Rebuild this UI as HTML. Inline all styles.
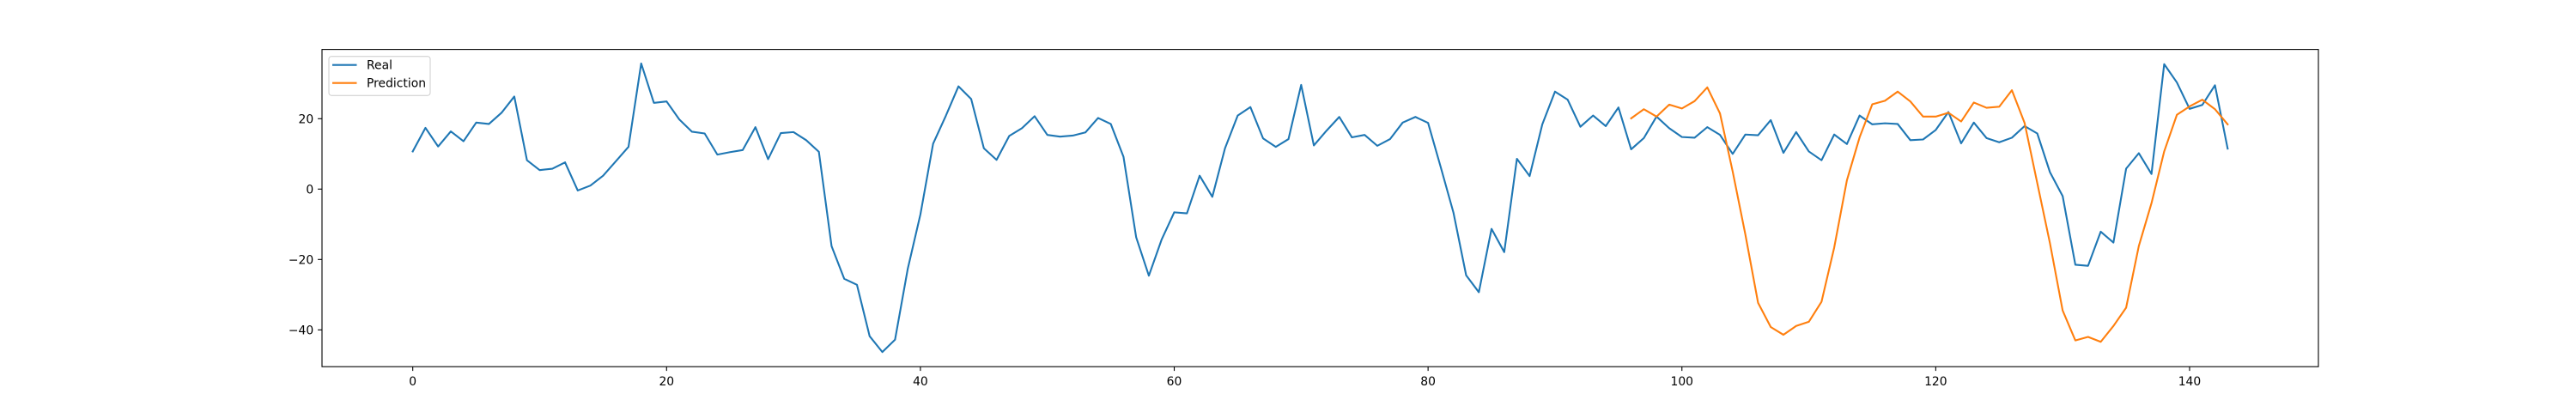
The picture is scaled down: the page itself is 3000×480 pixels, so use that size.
<!DOCTYPE html>
<html><head><meta charset="utf-8"><style>
html,body{margin:0;padding:0;background:#fff;}
svg{display:block;font-family:"DejaVu Sans","Liberation Sans",sans-serif;}
</style></head><body>
<svg id="chart" width="3000" height="480" xmlns="http://www.w3.org/2000/svg">
<rect x="0" y="0" width="3000" height="480" fill="#fff"/>
<g id="plot"></g>
</svg>
<script>
const realValues = [10.7,17.4,12.1,16.4,13.6,18.9,18.5,21.7,26.3,8.2,5.4,5.8,7.6,-0.4,1.0,3.8,7.9,12.0,35.7,24.5,24.9,19.8,16.3,15.8,9.8,10.5,11.1,17.6,8.5,15.9,16.2,13.9,10.6,-16.2,-25.5,-27.2,-41.8,-46.3,-42.8,-22.7,-7.2,12.9,20.8,29.2,25.6,11.6,8.3,15.1,17.3,20.7,15.4,14.9,15.2,16.1,20.2,18.5,9.2,-13.7,-24.6,-14.4,-6.6,-6.9,3.8,-2.2,11.6,20.9,23.3,14.4,12.0,14.2,29.6,12.4,16.6,20.5,14.7,15.4,12.3,14.2,18.9,20.5,18.8,6.2,-6.7,-24.5,-29.3,-11.3,-17.9,8.6,3.7,18.4,27.7,25.4,17.7,20.9,17.9,23.2,11.3,14.5,20.6,17.3,14.8,14.6,17.6,15.4,10.0,15.5,15.3,19.6,10.3,16.2,10.7,8.2,15.5,12.8,20.9,18.4,18.7,18.5,13.9,14.1,16.8,21.9,13.0,18.9,14.5,13.3,14.6,17.9,15.8,4.8,-2.0,-21.5,-21.8,-12.1,-15.2,5.8,10.2,4.3,35.5,30.3,22.8,23.9,29.5,11.5];
const predStart = 96;
const predValues = [20.1,22.7,20.6,24.0,22.9,25.0,28.9,21.5,5.0,-12.9,-32.3,-39.2,-41.4,-38.9,-37.7,-32.0,-16.6,2.5,14.7,24.1,25.1,27.7,24.9,20.6,20.6,21.7,19.2,24.6,23.1,23.4,28.1,18.8,1.7,-15.4,-34.5,-43.0,-42.0,-43.4,-38.9,-33.7,-16.2,-4.0,10.7,21.1,23.5,25.4,22.7,18.4];
const xTicks = [0,20,40,60,80,100,120,140];
const yTicks = [-40,-20,0,20];

const NS="http://www.w3.org/2000/svg";
const L=375,R=2700,T=57.6,B=427.2;
const xmin=-7.15,xmax=150.15,ymin=-50.46,ymax=39.68;
const X=v=>L+(v-xmin)/(xmax-xmin)*(R-L);
const Y=v=>B-(v-ymin)/(ymax-ymin)*(B-T);
const g=document.getElementById('plot');
function mk(tag,attrs){const e=document.createElementNS(NS,tag);for(const k in attrs)e.setAttribute(k,attrs[k]);g.appendChild(e);return e;}

function path(vals,start){let d='';vals.forEach((v,i)=>{d+=(i?'L':'M')+X(start+i).toFixed(2)+','+Y(v).toFixed(2);});return d;}
const real=mk('path',{d:path(realValues,0),fill:'none',stroke:'#1f77b4','stroke-width':2.1,'stroke-linejoin':'round','stroke-linecap':'square'});


const pred=mk('path',{d:path(predValues,predStart),fill:'none',stroke:'#ff7f0e','stroke-width':2.1,'stroke-linejoin':'round','stroke-linecap':'square'});



const frame=mk('rect',{x:L,y:T,width:R-L,height:B-T,fill:'none',stroke:'#000','stroke-width':1.1});



xTicks.forEach(t=>{
  const x=X(t);
  const tk=mk('line',{x1:x,y1:B,x2:x,y2:B+4.9,stroke:'#000','stroke-width':1.1});
  
  
  const lb=mk('text',{x:x,y:B+22,'text-anchor':'middle','font-size':'13.9px',fill:'#000'});
  lb.textContent=t;
  
  
});
yTicks.forEach(t=>{
  const y=Y(t);
  const tk=mk('line',{x1:L-4.9,y1:y,x2:L,y2:y,stroke:'#000','stroke-width':1.1});
  
  
  const lb=mk('text',{x:L-9.8,y:y+5,'text-anchor':'end','font-size':'13.9px',fill:'#000'});
  lb.textContent=(t<0?'\u2212'+(-t):t);
  
  
});

const lg=mk('rect',{x:383,y:65.7,width:118,height:45.5,rx:3,fill:'#fff','fill-opacity':0.8,stroke:'#ccc','stroke-width':1});


[['Real','#1f77b4',75.7,'legend-entry-real'],['Prediction','#ff7f0e',96.7,'legend-entry-prediction']].forEach(e=>{
  const ln=mk('line',{x1:387,y1:e[2],x2:415.5,y2:e[2],stroke:e[1],'stroke-width':2.1});
  
  
  const tx=mk('text',{x:427,y:e[2]+5,'font-size':'13.9px',fill:'#000'});
  tx.textContent=e[0];
  
  
});
</script>
</body></html>
